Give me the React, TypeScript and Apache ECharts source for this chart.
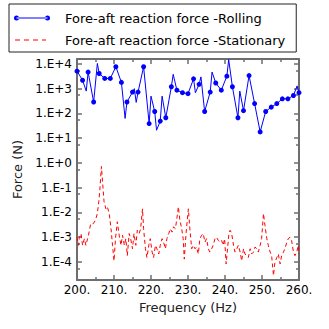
import React, { useEffect, useRef } from 'react';
import * as echarts from 'echarts';

const NAME_ROLL = 'Fore-aft reaction force -Rolling';
const NAME_STAT = 'Fore-aft reaction force -Stationary';

// Rolling (blue) — frequency (Hz), force (N), marker flag
const rollingFreq = [
  200, 201.5, 202.5, 203, 204.5, 205.5, 206, 207.5, 209, 210.5, 212, 213, 213.5, 215, 215.5, 216, 216.5,
  218, 219.5, 220, 221, 221.5, 222.5, 223, 224, 225.5, 226, 227, 228.5, 230, 231.5, 232, 233, 233.5,
  234.5, 236, 236.5, 237.5, 239, 240.5, 241, 242, 243.5, 244, 245, 246.5, 248, 249.5, 251, 252.5,
  254, 255.5, 257, 258.5, 259.5, 260,
];
const rollingForce = [
  5.1e3, 2.2e3, 8.0e2, 4.7e3, 2.9e2, 1.05e4, 4.1e3, 2.6e3, 2.6e3, 7.7e3, 1.8e3, 63, 2.9e2, 7.3e2, 1.0e3, 2.8e2, 7.3e2,
  7.7e3, 39, 5.0e2, 1.2e2, 21, 49, 5.0e2, 67, 1.2e3, 3.8e3, 8.7e2, 6.9e2, 6.3e2, 2.5e3, 6.9e2, 1.5e3, 3.0e3,
  1.2e2, 7.3e2, 4.7e3, 1.7e3, 8.7e2, 3.2e3, 1.5e4, 1.2e3, 67, 8.0e2, 1.3e2, 3.4e3, 2.5e2, 18, 1.2e2, 1.8e2,
  2.5e2, 3.9e2, 3.9e2, 5.3e2, 1.3e3, 6.9e2,
];
const rollingMarked = [
  1, 1, 0, 1, 1, 0, 1, 1, 1, 1, 1, 0, 1, 1, 0, 0, 1,
  1, 1, 0, 1, 0, 1, 0, 1, 1, 0, 1, 1, 1, 1, 0, 1, 0,
  1, 1, 0, 1, 1, 1, 0, 1, 1, 0, 1, 1, 1, 1, 1, 1,
  1, 1, 1, 1, 0, 1,
];

// Stationary (red dashed) — frequency (Hz), force (N)
const stationaryFreq = [
  200.0, 200.4, 200.6, 201.1, 201.5, 202.0, 202.4, 203.1, 203.7, 204.4, 205.0, 205.5, 205.9, 206.2, 206.6, 206.9,
  207.3, 207.8, 208.2, 208.7, 209.2, 209.6, 210.0, 210.4, 210.9, 211.4, 211.9, 212.3, 212.8, 213.2, 213.6, 214.1,
  214.5, 215.0, 215.4, 215.9, 216.3, 216.8, 217.2, 217.7, 218.0, 218.5, 218.9, 219.4, 219.8, 220.3, 220.7, 221.2,
  221.6, 222.1, 222.5, 223.0, 223.4, 223.9, 224.3, 224.8, 225.2, 225.7, 226.1, 226.6, 227.0, 227.4, 227.8, 228.3,
  228.7, 229.0, 229.5, 230.1, 230.5, 231.0, 231.4, 231.9, 232.3, 232.8, 233.2, 233.7, 234.1, 234.6, 235.0, 235.5,
  235.9, 236.4, 236.8, 237.3, 237.7, 238.2, 238.6, 239.1, 239.5, 239.9, 240.3, 240.6, 241.1, 241.4, 241.8, 242.3,
  242.7, 243.2, 243.6, 244.1, 244.5, 245.0, 245.4, 245.9, 246.3, 246.8, 247.2, 247.7, 248.1, 248.6, 249.0, 249.5,
  249.9, 250.4, 250.8, 251.3, 251.7, 252.2, 252.6, 253.1, 253.5, 254.0, 254.4, 254.9, 255.3, 255.8, 256.2, 256.7,
  257.1, 257.6, 258.0, 258.5, 258.9, 259.4, 259.8, 260.0,
];
const stationaryForce = [
  1.0e-3, 4.7e-4, 8.7e-4, 1.4e-3, 4.7e-4, 8.7e-4, 4.7e-4, 1.2e-3, 3.5e-3, 3.5e-3, 4.9e-3, 9.1e-3, 2.8e-2, 9.5e-2, 0.72, 0.18,
  2.8e-2, 1.4e-2, 1.7e-2, 9.1e-3, 2.2e-3, 4.7e-4, 1.1e-4, 8.7e-4, 4.2e-3, 1.2e-3, 4.7e-4, 1.2e-3, 4.7e-4, 8.7e-4, 1.8e-4, 1.4e-3,
  8.7e-4, 3.4e-4, 1.4e-3, 4.7e-4, 1.9e-3, 1.4e-3, 2.2e-3, 1.4e-2, 2.2e-3, 3.4e-4, 1.5e-4, 4.7e-4, 8.7e-4, 2.5e-4, 1.5e-4, 4.7e-4,
  3.4e-4, 2.1e-4, 4.7e-4, 8.7e-4, 6.3e-4, 3.4e-4, 8.7e-4, 1.4e-3, 2.2e-3, 1.6e-3, 2.6e-3, 2.2e-3, 5.8e-3, 1.7e-2, 5.0e-3, 2.2e-3,
  8.7e-4, 1.3e-4, 1.6e-3, 1.4e-2, 2.2e-3, 3.4e-4, 4.7e-4, 3.4e-4, 4.0e-4, 2.1e-4, 8.7e-4, 1.2e-3, 1.4e-3, 6.3e-4, 8.7e-4, 3.4e-4,
  2.5e-4, 3.4e-4, 4.7e-4, 8.7e-4, 1.0e-3, 7.4e-4, 6.3e-4, 7.4e-4, 4.7e-4, 8.7e-4, 8.3e-5, 2.5e-4, 1.6e-3, 1.9e-3, 1.4e-3, 4.7e-4,
  2.5e-4, 3.4e-4, 4.7e-4, 2.5e-4, 1.1e-4, 3.4e-4, 2.1e-4, 1.8e-4, 1.5e-4, 3.4e-4, 2.1e-4, 2.5e-4, 4.0e-4, 3.4e-4, 2.5e-4, 4.7e-4,
  8.7e-4, 9.1e-3, 3.0e-3, 8.7e-4, 4.7e-4, 2.5e-4, 1.8e-4, 2.8e-5, 9.8e-5, 1.5e-4, 2.1e-4, 8.3e-5, 1.8e-4, 2.5e-4, 3.4e-4, 6.3e-4,
  8.7e-4, 1.0e-3, 7.4e-4, 2.5e-4, 1.8e-4, 2.5e-4, 4.7e-4, 2.1e-4,
];

const xTickValues = [200, 210, 220, 230, 240, 250, 260];
const xTickLabels = ['200.', '210.', '220.', '230.', '240.', '250.', '260.'];
const yTickExponents = [-4, -3, -2, -1, 0, 1, 2, 3, 4];
const yTickLabels = ['1.E-4', '1.E-3', '1.E-2', '1.E-1', '1.E+0', '1.E+1', '1.E+2', '1.E+3', '1.E+4'];

const Y_MIN = Math.pow(10, -4.73);
const Y_MAX = Math.pow(10, 4.2);

const FONT = 'DejaVu Sans';
const AXIS_COLOR = '#6e6e6e';
const BLUE = '#0000ff';
const RED = '#ff0000';

const xLabelFmt = (v: number) => {
  const i = xTickValues.indexOf(Math.round(v));
  return i >= 0 && Math.abs(v - Math.round(v)) < 1e-6 ? xTickLabels[i] : '';
};
const yLabelFmt = (v: number) => {
  const e = Math.log10(v);
  const r = Math.round(e);
  if (Math.abs(e - r) > 1e-6) return '';
  const i = yTickExponents.indexOf(r);
  return i >= 0 ? yTickLabels[i] : '';
};

const axisLine = { show: true, onZero: false, lineStyle: { color: AXIS_COLOR, width: 2 } };
const axisTick = { show: true, inside: true, length: 5, lineStyle: { color: AXIS_COLOR, width: 1.5 } };
const minorTick = { show: true, splitNumber: 2, length: 3, lineStyle: { color: AXIS_COLOR, width: 1.5 } };

const option: any = {
  animation: false,
  textStyle: { fontFamily: FONT },
  legend: {
    orient: 'vertical',
    left: 9,
    top: 4,
    padding: [6, 11, 4, 5],
    backgroundColor: '#ffffff',
    borderColor: '#222222',
    borderWidth: 1,
    borderRadius: 0,
    itemWidth: 36,
    itemHeight: 5,
    itemGap: 6,
    textStyle: { fontFamily: FONT, fontSize: 13, color: '#000', lineHeight: 16, padding: [0, 0, 0, 10] },
    data: [
      {
        name: NAME_ROLL,
        icon:
          'path://M0,2.5a2.5,2.5 0 1,0 5,0a2.5,2.5 0 1,0 -5,0Z M2.5,2L33.5,2L33.5,3L2.5,3Z M31,2.5a2.5,2.5 0 1,0 5,0a2.5,2.5 0 1,0 -5,0Z',
      },
      {
        name: NAME_STAT,
        icon:
          'path://M0,0M36,5M1,2L6,2L6,3L1,3Z M10,2L15,2L15,3L10,3Z M19,2L24,2L24,3L19,3Z M28,2L32,2L32,3L28,3Z',
      },
    ],
  },
  grid: { left: 77, right: 30, top: 59, bottom: 49, containLabel: false },
  xAxis: [
    {
      type: 'value',
      position: 'bottom',
      min: 200,
      max: 260,
      interval: 10,
      axisLine,
      axisTick,
      minorTick,
      splitLine: { show: false },
      axisLabel: { formatter: xLabelFmt, fontFamily: FONT, fontSize: 12, color: '#000', margin: 4 },
      name: 'Frequency (Hz)',
      nameLocation: 'middle',
      nameGap: 20,
      nameTextStyle: { fontFamily: FONT, fontSize: 13, color: '#222' },
    },
    {
      type: 'value',
      position: 'top',
      min: 200,
      max: 260,
      interval: 10,
      axisLine,
      axisTick,
      minorTick,
      splitLine: { show: false },
      axisLabel: { show: false },
    },
  ],
  yAxis: [
    {
      type: 'log',
      position: 'left',
      min: Y_MIN,
      max: Y_MAX,
      splitNumber: 9,
      axisLine,
      axisTick,
      minorTick,
      splitLine: { show: false },
      axisLabel: {
        formatter: yLabelFmt,
        showMinLabel: false,
        showMaxLabel: false,
        fontFamily: FONT,
        fontSize: 12,
        color: '#000',
        margin: 5,
      },
      name: 'Force (N)',
      nameLocation: 'middle',
      nameGap: 44,
      nameTextStyle: { fontFamily: FONT, fontSize: 13, color: '#222' },
    },
    {
      type: 'log',
      position: 'right',
      min: Y_MIN,
      max: Y_MAX,
      splitNumber: 9,
      axisLine,
      axisTick,
      minorTick,
      splitLine: { show: false },
      axisLabel: { show: false },
    },
  ],
  series: [
    {
      name: NAME_ROLL,
      type: 'line',
      xAxisIndex: 0,
      yAxisIndex: 0,
      symbol: 'circle',
      symbolSize: 5,
      showSymbol: true,
      clip: true,
      lineStyle: { color: BLUE, width: 1 },
      itemStyle: { color: BLUE },
      data: rollingFreq.map((f, i) => ({
        value: [f, rollingForce[i]],
        symbol: rollingMarked[i] ? 'circle' : 'none',
      })),
    },
    {
      name: NAME_STAT,
      type: 'line',
      xAxisIndex: 0,
      yAxisIndex: 0,
      symbol: 'none',
      showSymbol: false,
      clip: true,
      lineStyle: { color: RED, width: 1, type: [4, 3] },
      itemStyle: { color: RED },
      data: stationaryFreq.map((f, i) => [f, stationaryForce[i]]),
    },
  ],
};

export default function App() {
  const ref = useRef<HTMLDivElement>(null);
  useEffect(() => {
    document.body.style.margin = '0';
    const chart = echarts.init(ref.current as HTMLDivElement, null, { renderer: 'svg' });
    chart.setOption(option);
    return () => chart.dispose();
  }, []);
  return <div ref={ref} style={{ width: 329, height: 329 }} />;
}
